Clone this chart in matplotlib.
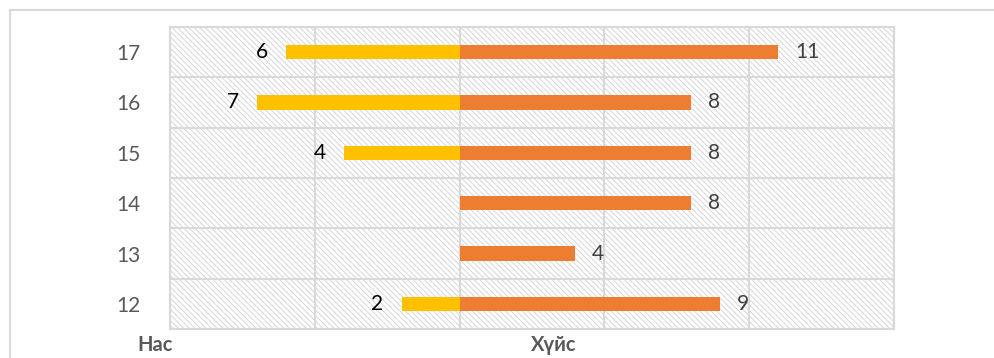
import numpy as np
import matplotlib
matplotlib.use("Agg")
import matplotlib.pyplot as plt
from matplotlib.lines import Line2D

plt.rcParams["font.family"] = ["Lato", "DejaVu Sans"]
plt.rcParams["hatch.linewidth"] = 0.7
plt.rcParams["hatch.color"] = "#d6d6d6"

ages = [12, 13, 14, 15, 16, 17]
left_vals = [2, 0, 0, 4, 7, 6]      # yellow series
right_vals = [9, 4, 8, 8, 8, 11]    # orange series
xticks = [-10, -5, 0, 5, 10, 15]

W, H = 994, 358
fig = plt.figure(figsize=(W / 100, H / 100), dpi=100)
ax = fig.add_axes([170 / W, 1 - 329 / H, (894 - 170) / W, (329 - 27) / H])

ax.patch.set_facecolor("white")
ax.patch.set_hatch("\\\\\\\\\\\\")
ax.patch.set_edgecolor("#d6d6d6")

ypos = np.arange(len(ages))
ax.barh(ypos, [-v for v in left_vals], height=0.28, color="#FFC000", zorder=3)
ax.barh(ypos, right_vals, height=0.28, color="#ED7D31", zorder=3)

ax.set_xlim(xticks[0], xticks[-1])
ax.set_ylim(-0.5, len(ages) - 0.5)
ax.set_xticks(xticks)
ax.set_xticklabels([])
ax.set_yticks(ypos)
ax.set_yticklabels([str(a) for a in ages], fontsize=15, color="#595959")
ax.set_yticks(np.arange(-0.5, len(ages), 1.0), minor=True)
ax.tick_params(axis="both", which="both", length=0)
ax.tick_params(axis="y", pad=21)
ax.grid(axis="x", which="major", color="#d9d9d9", linewidth=1.5, zorder=1)
ax.grid(axis="y", which="minor", color="#d9d9d9", linewidth=1.5, zorder=1)
ax.grid(axis="y", which="major", visible=False)
ax.set_axisbelow(True)
for s in ax.spines.values():
    s.set_color("#d9d9d9")
    s.set_linewidth(1.5)

for y, v in zip(ypos, left_vals):
    if v > 0:
        ax.annotate(str(v), (-v, y), xytext=(-13, 0), textcoords="offset points",
                    ha="right", va="center", fontsize=15, color="black")
for y, v in zip(ypos, right_vals):
    ax.annotate(str(v), (v, y), xytext=(12, 0), textcoords="offset points",
                ha="left", va="center", fontsize=15, color="#404040")

fig.text(155 / W, 1 - 345 / H, "Нас", ha="center", va="center",
         fontsize=14.5, fontweight="bold", color="#595959")
fig.text(554 / W, 1 - 345 / H, "Хүйс", ha="center", va="center",
         fontsize=14.5, fontweight="bold", color="#595959")

# outer chart frame (only top and left edges visible in the crop)
fig.add_artist(Line2D([10 / W, 10 / W], [1 - 10 / H, 0], color="#d9d9d9", linewidth=1.5))
fig.add_artist(Line2D([10 / W, 1], [1 - 10 / H, 1 - 10 / H], color="#d9d9d9", linewidth=1.5))

fig.savefig("out.png", dpi=100)
